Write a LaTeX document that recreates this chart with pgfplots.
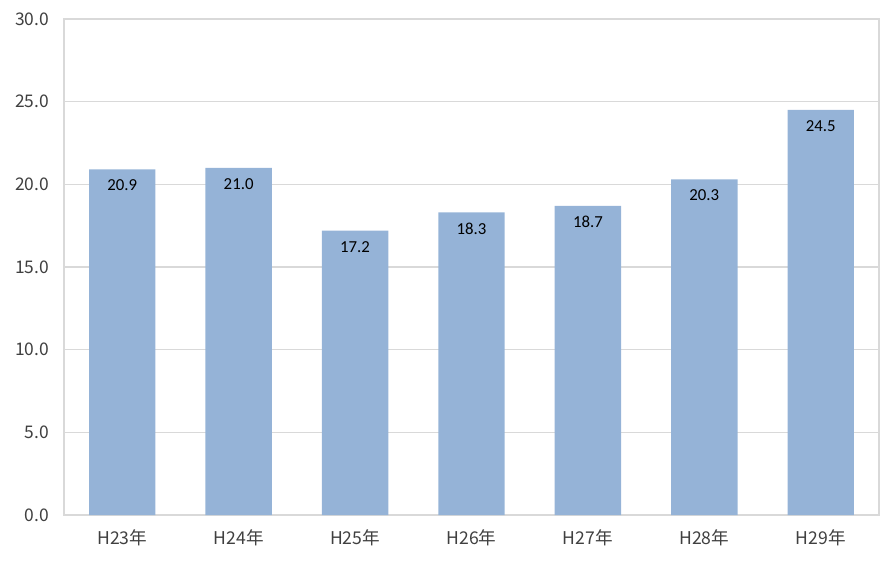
\documentclass[border=0pt]{standalone}
\usepackage{pgfplots}
\pgfplotsset{compat=1.18}
\usepackage{fontspec}
\setmainfont{Carlito}
\newfontfamily\jp{Noto Sans CJK JP}
\definecolor{barblue}{HTML}{95B3D7}
\definecolor{gridgray}{HTML}{D9D9D9}
\definecolor{txtgray}{HTML}{404040}
\begin{document}
\begin{tikzpicture}
\useasboundingbox (-32pt,-24.5pt) rectangle (416pt,257.5pt);
\begin{axis}[
    at={(0,0)}, anchor=south west,
    scale only axis,
    width=407.5pt, height=248pt,
    xmin=-0.5, xmax=6.5,
    ymin=0, ymax=30,
    ytick={0,5,...,30},
    xtick={0,...,6},
    xticklabels={H23年,H24年,H25年,H26年,H27年,H28年,H29年},
    ymajorgrids,
    grid style={gridgray, line width=0.6pt},
    axis line style={gridgray, line width=0.6pt},
    major tick length=0pt,
    /pgf/number format/.cd, fixed, fixed zerofill, precision=1, assume math mode=true,
    /pgfplots/.cd,
    yticklabel style={font=\jp\fontsize{8.7}{9}\selectfont, text=txtgray, xshift=-4pt},
    xticklabel style={font=\jp\fontsize{8.8}{9}\selectfont, text=txtgray, yshift=-4pt},
]
\addplot[ybar, bar width=0.57, fill=barblue, draw=none,
    nodes near coords,
    nodes near coords style={font=\fontsize{8.4}{9}\selectfont, text=black, anchor=center, yshift=-8pt,
        /pgf/number format/.cd, fixed, fixed zerofill, precision=1}]
coordinates {
    (0,20.9) (1,21.0) (2,17.2) (3,18.3) (4,18.7) (5,20.3) (6,24.5)
};
\end{axis}
\end{tikzpicture}
\end{document}
